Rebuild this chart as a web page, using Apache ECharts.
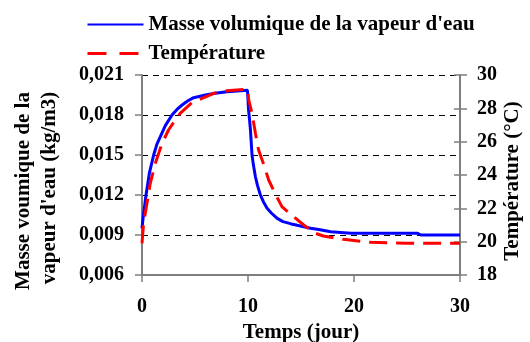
<!DOCTYPE html>
<html>
<head>
<meta charset="utf-8">
<script src="https://cdn.jsdelivr.net/npm/echarts@6/dist/echarts.min.js"></script>
<style>
html,body{margin:0;padding:0;background:#fff;}
#chart{width:530px;height:342px;}
</style>
</head>
<body>
<div id="chart"></div>
<script>
// Time (days) and water-vapour density (kg/m3)
const densityTime = [0, 0.05, 0.15, 0.38, 0.69, 1.1, 1.4, 1.73, 2.2, 2.83, 3.3, 3.78, 4.3, 4.87, 5.98, 6.9, 8.0, 9.0, 9.95, 10.05, 10.15, 10.23, 10.38, 10.5, 10.7, 10.9, 11.17, 11.45, 11.8, 12.2, 12.75, 13.3, 14.0, 14.95, 15.9, 16.8, 17.8, 19.7, 22.0, 26.0, 26.3, 30.0];
const densityValues = [0.0095, 0.0099, 0.0106, 0.0120, 0.01362, 0.0150, 0.0158, 0.01637, 0.0172, 0.0180, 0.01842, 0.01875, 0.01905, 0.0193, 0.0195, 0.01963, 0.01975, 0.0198, 0.01985, 0.0184, 0.0176, 0.01688, 0.0150, 0.0143, 0.01337, 0.0127, 0.0120, 0.0115, 0.0110, 0.01065, 0.01025, 0.0100, 0.00985, 0.00968, 0.0095, 0.0094, 0.00925, 0.00913, 0.00913, 0.00913, 0.0090, 0.0090];

// Time (days) and temperature (°C)
const tempTime = [0, 0.05, 0.15, 0.47, 0.78, 1.26, 1.89, 2.5, 3.15, 3.6, 4.7, 5.67, 6.77, 8.0, 9.95, 10.07, 10.38, 10.7, 11.0, 11.5, 11.95, 12.6, 13.2, 14.3, 15.26, 16.2, 17.1, 19.0, 21.6, 25.0, 30.0];
const tempValues = [19.9, 20.3, 21.1, 22.3, 23.5, 24.7, 25.9, 26.7, 27.3, 27.7, 28.34, 28.6, 28.9, 29.05, 29.15, 28.5, 27.7, 26.5, 25.5, 24.6, 23.7, 22.84, 22.1, 21.5, 21.0, 20.54, 20.34, 20.14, 19.96, 19.9, 19.9];

const seriesNames = ["Masse volumique de la vapeur d'eau", "Température"];
const leftAxisTitle = ["Masse voumique de la", "vapeur d'eau (kg/m3)"];
const rightAxisTitle = "Température (°C)";
const xAxisTitle = "Temps (jour)";

const FONT = '"Liberation Serif", "Times New Roman", serif';
const boldText = {fontFamily: FONT, fontWeight: 'bold', fontSize: 20, color: '#000'};
const titleText = {fontFamily: FONT, fontWeight: 'bold', fontSize: 21, color: '#000'};
const axisGrey = '#7f7f7f';

// legend keys are drawn as plain strokes only, the marker itself is hidden
const hiddenMarker = {opacity: 0};

const chart = echarts.init(document.getElementById('chart'), null, {renderer: 'canvas'});

chart.setOption({
  animation: false,
  backgroundColor: '#fff',
  grid: {left: 142, right: 70, top: 75, bottom: 67, outerBoundsMode: 'none', containLabel: false},
  legend: {
    orient: 'vertical',
    left: 86,
    top: 14,
    padding: 0,
    itemWidth: 56,
    itemHeight: 3,
    itemGap: 8,
    textStyle: Object.assign({}, titleText, {padding: [0, 0, 0, 0]}),
    data: [
      {name: seriesNames[0], itemStyle: hiddenMarker, lineStyle: {color: '#0000FF', width: 2, type: 'solid'}},
      {name: seriesNames[1], itemStyle: hiddenMarker, lineStyle: {color: '#FF0000', width: 3, type: [19, 13]}}
    ]
  },
  xAxis: {
    type: 'value',
    min: 0, max: 30, interval: 10,
    name: xAxisTitle,
    nameLocation: 'middle',
    nameGap: 45,
    nameTextStyle: titleText,
    axisLine: {lineStyle: {color: axisGrey, width: 2}},
    axisTick: {show: true, length: 7, lineStyle: {color: axisGrey, width: 1.5}},
    axisLabel: Object.assign({}, boldText, {margin: 22}),
    splitLine: {show: false}
  },
  yAxis: [
    {
      type: 'value',
      min: 0.006, max: 0.021, interval: 0.003,
      position: 'left',
      axisLine: {show: true, lineStyle: {color: axisGrey, width: 2}},
      axisTick: {show: true, length: 7, lineStyle: {color: axisGrey, width: 1.5}},
      axisLabel: Object.assign({}, boldText, {
        margin: 18,
        formatter: v => v.toFixed(3).replace('.', ',')
      }),
      splitLine: {show: true, lineStyle: {color: '#000', width: 1, type: [6, 5]}}
    },
    {
      type: 'value',
      min: 18, max: 30, interval: 2,
      position: 'right',
      axisLine: {show: true, lineStyle: {color: axisGrey, width: 2}},
      axisTick: {show: true, length: 7, lineStyle: {color: axisGrey, width: 1.5}},
      axisLabel: Object.assign({}, boldText, {margin: 17}),
      splitLine: {show: false}
    },
    {
      // inner half of the crossing ticks on the temperature axis
      type: 'value',
      min: 18, max: 30, interval: 2,
      position: 'right',
      axisLine: {show: false},
      axisTick: {show: true, inside: true, length: 6, lineStyle: {color: axisGrey, width: 1.5}},
      axisLabel: {show: false},
      splitLine: {show: false}
    }
  ],
  graphic: [
    {
      type: 'text', x: 24, y: 191, rotation: Math.PI / 2,
      style: {text: leftAxisTitle[0], font: 'bold 21px ' + FONT, textAlign: 'center', textVerticalAlign: 'middle', fill: '#000'}
    },
    {
      type: 'text', x: 50, y: 188, rotation: Math.PI / 2,
      style: {text: leftAxisTitle[1], font: 'bold 21px ' + FONT, textAlign: 'center', textVerticalAlign: 'middle', fill: '#000'}
    },
    {
      type: 'text', x: 513, y: 181, rotation: Math.PI / 2,
      style: {text: rightAxisTitle, font: 'bold 21px ' + FONT, textAlign: 'center', textVerticalAlign: 'middle', fill: '#000'}
    }
  ],
  series: [
    {
      name: seriesNames[0],
      type: 'line',
      yAxisIndex: 0,
      showSymbol: false,
      symbol: 'none',
      color: '#0000FF',
      lineStyle: {color: '#0000FF', width: 3},
      data: densityTime.map((t, i) => [t, densityValues[i]]),
      z: 3
    },
    {
      name: seriesNames[1],
      type: 'line',
      yAxisIndex: 1,
      showSymbol: false,
      symbol: 'none',
      color: '#FF0000',
      lineStyle: {color: '#FF0000', width: 3, type: [18, 9]},
      data: tempTime.map((t, i) => [t, tempValues[i]]),
      z: 4
    }
  ]
});
</script>
</body>
</html>
